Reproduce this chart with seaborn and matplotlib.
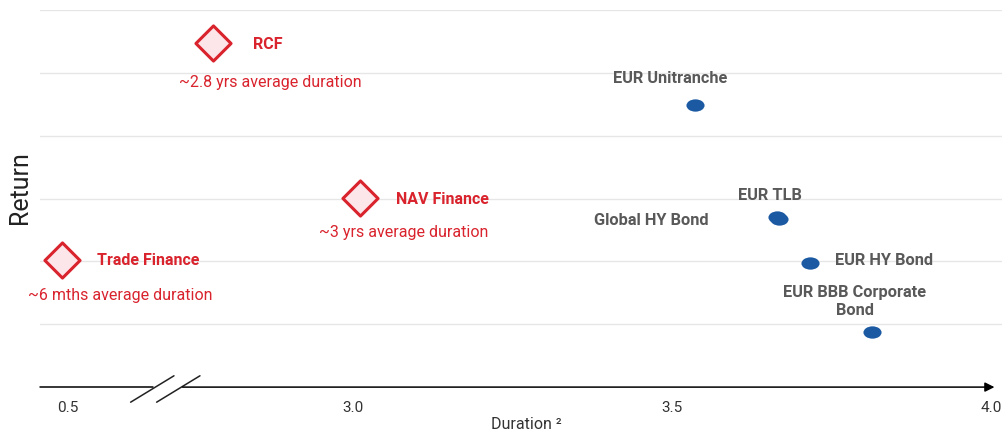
import numpy as np
import pandas as pd
import matplotlib
matplotlib.use("Agg")
import matplotlib.pyplot as plt
from matplotlib.path import Path
from matplotlib.transforms import Affine2D
import seaborn as sns

# ===============================
# Data
# ===============================
private_names = ["RCF", "NAV Finance", "Trade Finance"]
private_duration = [2.78, 3.01, 0.49]
private_return = [5.47, 3.01, 2.03]
private_notes = ["~2.8 yrs average duration", "~3 yrs average duration", "~6 mths average duration"]

public_names = ["EUR Unitranche", "EUR TLB", "Global HY Bond", "EUR HY Bond", "EUR BBB Corporate\nBond"]
public_duration = [3.536, 3.664, 3.668, 3.716, 3.813]
public_return = [4.49, 2.71, 2.68, 1.97, 0.87]

x_ticks = [0.5, 3.0, 3.5, 4.0]
x_tick_labels = ["0.5", "3.0", "3.5", "4.0"]

# ===============================
# Style
# ===============================
sns.set_theme(style="white")
plt.rcParams["font.family"] = ["Roboto", "DejaVu Sans"]

RED = "#d9232d"
PINK = "#fde6ea"
BLUE = "#1b5aa3"
GREY_TXT = "#595959"
GRID = "#e6e6e6"

# label offsets in points (layout only)
private_title_off = [(29, -1), (26, -1), (25, -1)]
private_note_off = [(41, -28), (32, -25), (42, -26)]
public_off = [(-18, 19), (-5, 15), (-51, -1), (18, 2), (-12, 22)]
public_ha = ["center", "center", "right", "left", "center"]


# ===============================
# Broken x axis via a function scale
# ===============================
def fwd(x):
    x = np.asarray(x, dtype=float)
    return np.where(x <= 0.6, x + 2.053,
                    np.where(x < 2.7, 2.653 + (x - 0.6) * (0.047 / 2.1), x))


def inv(y):
    y = np.asarray(y, dtype=float)
    return np.where(y <= 2.653, y - 2.053,
                    np.where(y < 2.7, 0.6 + (y - 2.653) * (2.1 / 0.047), y))


fig = plt.figure(figsize=(10.03, 4.33), dpi=100)
ax = fig.add_axes([0.04, 0.106, 0.96, 0.871])
ax.set_xscale("function", functions=(fwd, inv))

priv = pd.DataFrame({"duration": private_duration, "ret": private_return})
pub = pd.DataFrame({"duration": public_duration, "ret": public_return})

ellipse = Path(Affine2D().scale(1.0, 0.68).transform(Path.unit_circle().vertices),
               Path.unit_circle().codes)

sns.scatterplot(data=priv, x="duration", y="ret", marker="D", s=320,
                color=PINK, edgecolor=RED, linewidth=2.2, ax=ax, zorder=3)
sns.scatterplot(data=pub, x="duration", y="ret", marker=ellipse, s=170,
                color=BLUE, edgecolor=BLUE, linewidth=0, ax=ax, zorder=3)

for i, name in enumerate(private_names):
    xy = (private_duration[i], private_return[i])
    ax.annotate(name, xy, xytext=private_title_off[i], textcoords="offset points",
                ha="left", va="center", color=RED, fontsize=11.5, fontweight="bold")
    ax.annotate(private_notes[i], xy, xytext=private_note_off[i], textcoords="offset points",
                ha="center", va="center", color=RED, fontsize=11.5)

for i, name in enumerate(public_names):
    xy = (public_duration[i], public_return[i])
    ax.annotate(name, xy, xytext=public_off[i], textcoords="offset points",
                ha=public_ha[i], va="center", color=GREY_TXT, fontsize=11.8,
                fontweight="bold", linespacing=1.25, multialignment="center")

# ===============================
# Axes cosmetics
# ===============================
ax.set_xlim(0.456, 4.019)
ax.set_ylim(0, 6.0)
ax.set_yticks([1, 2, 3, 4, 5, 6])
ax.set_yticklabels([])
ax.yaxis.grid(True, color=GRID, linewidth=1)
ax.xaxis.grid(False)
ax.set_xticks(x_ticks)
ax.set_xticklabels(x_tick_labels, fontsize=11, color="#333333")
ax.xaxis.set_minor_locator(matplotlib.ticker.NullLocator())
ax.tick_params(axis="both", length=0)
ax.tick_params(axis="x", pad=10)
for sp in ax.spines.values():
    sp.set_visible(False)

ax.set_ylabel("Return", fontsize=18, color="#222222")
ax.yaxis.set_label_coords(-0.008, 0.53)
ax.set_xlabel("Duration ²", fontsize=11.5, color="#333333")
ax.xaxis.label.set_va("center")
ax.xaxis.set_label_coords(0.505, -0.1)

# axis line with a break and an arrow
ax.plot([0, 0.117], [0, 0], transform=ax.transAxes, color="black", lw=1.1, clip_on=False)
ax.annotate("", xy=(0.994, 0), xytext=(0.145, 0), xycoords="axes fraction",
            arrowprops=dict(arrowstyle="-|>", color="black", lw=1.1, mutation_scale=14))
for x0 in [0.094, 0.121]:
    ax.plot([x0, x0 + 0.045], [-0.04, 0.03], transform=ax.transAxes,
            color="#222222", lw=1.1, clip_on=False)

fig.savefig("out.png", dpi=100)
